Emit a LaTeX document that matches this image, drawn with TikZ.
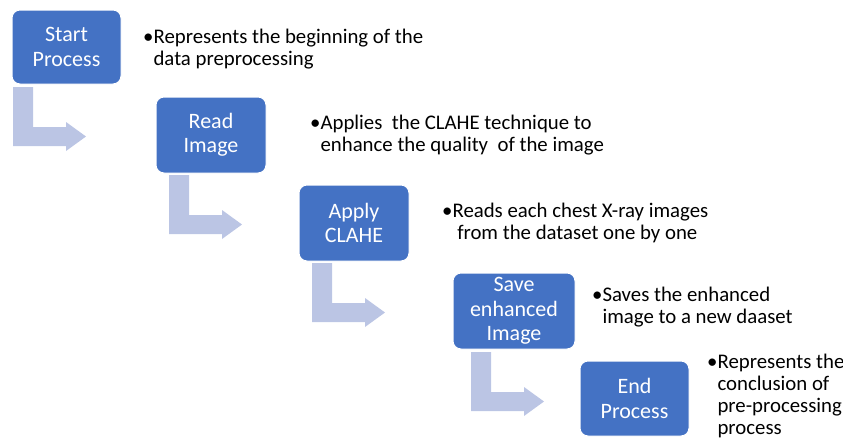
\documentclass[tikz,border=0pt]{standalone}
\usepackage{fontspec}
\setmainfont{Carlito}
\definecolor{boxblue}{RGB}{68,114,196}
\definecolor{arrowblue}{RGB}{187,197,228}
\tikzset{
  stepbox/.style={rectangle, rounded corners=8pt, fill=boxblue, draw=white, line width=1pt,
    text=white, align=center, inner sep=0pt, font=\fontsize{22}{24.5}\selectfont},
  desc/.style={anchor=base west, inner sep=0pt, text=black, font=\fontsize{20.8}{22}\selectfont},
  bentarr/.pic={
    \fill[arrowblue] (0,0) -- (20,0) -- (20,40) -- (53,40) -- (53,35) -- (73,49.5)
      -- (53,64) -- (53,59) -- (0,59) -- cycle;
  }
}
\newcommand{\hang}{\hphantom{\textbullet}}
\begin{document}
\begin{tikzpicture}[x=1pt,y=-1pt]
\useasboundingbox (0,0) rectangle (843,442);
% boxes
\node[stepbox, minimum width=109pt, minimum height=74pt] (b1) at (66.5,47) {Start\\Process};
\node[stepbox, minimum width=110pt, minimum height=76pt] (b2) at (211,135) {Read\\Image};
\node[stepbox, minimum width=110pt, minimum height=76pt] (b3) at (354,223) {Apply\\CLAHE};
\node[stepbox, minimum width=122pt, minimum height=76pt] (b4) at (514,311) {Save\\enhanced\\Image};
\node[stepbox, minimum width=109pt, minimum height=75pt] (b5) at (634.5,398.5) {End\\Process};
% bent arrows
\pic (a1) at (13,87) {bentarr};
\pic (a2) at (169,175) {bentarr};
\pic (a3) at (312,263) {bentarr};
\pic (a4) at (471,352) {bentarr};
% descriptions
\node[desc] (t1) at (143,43) {\begin{tabular}[t]{@{}l@{}}\textbullet Represents the beginning of the\\\hang data preprocessing\end{tabular}};
\node[desc] (t2) at (310,129) {\begin{tabular}[t]{@{}l@{}}\textbullet Applies\ \ the CLAHE technique to\\\hang enhance the quality\ \ of the image\end{tabular}};
\node[desc] (t3) at (442,217) {\begin{tabular}[t]{@{}l@{}}\textbullet Reads each chest X-ray images\\\hang\ from the dataset one by one\end{tabular}};
\node[desc] (t4) at (592,301) {\begin{tabular}[t]{@{}l@{}}\textbullet Saves the enhanced\\\hang image to a new daaset\end{tabular}};
\node[desc] (t5) at (707,368) {\begin{tabular}[t]{@{}l@{}}\textbullet Represents the\\\hang conclusion of\\\hang pre-processing\\\hang process\end{tabular}};
\end{tikzpicture}
\end{document}
